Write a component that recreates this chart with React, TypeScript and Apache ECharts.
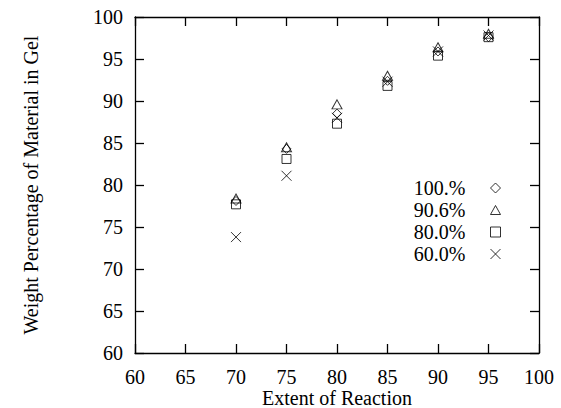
import React, { useEffect, useRef } from "react";
import * as echarts from "echarts";

const extent = [70, 75, 80, 85, 90, 95];
const s100 = [78.1, 84.3, 88.5, 92.4, 95.9, 97.6];
const s906 = [78.4, 84.5, 89.6, 93.0, 96.4, 98.0];
const s800 = [77.7, 83.1, 87.3, 91.8, 95.4, 97.6];
const s600 = [73.8, 81.1, 88.0, 92.3, 95.9, 97.8];
const seriesNames = ["100.%", "90.6%", "80.0%", "60.0%"];
const xTitle = "Extent of Reaction";
const yTitle = "Weight Percentage of Material in Gel";

const DIAMOND = "path://M5,0L10,5L5,10L0,5Z";
const TRIANGLE = "path://M5,0L10,9L0,9Z";
const SQUARE = "path://M0,0L10,0L10,10L0,10Z";
const CROSS = "path://M0,0L10,10M10,0L0,10";

const FONT = "Liberation Serif";

export default function App() {
  const ref = useRef<HTMLDivElement>(null);
  useEffect(() => {
    if (!ref.current) return;
    const chart = echarts.init(ref.current, null, { renderer: "svg" });
    const mk = (arr: number[]) => arr.map((v, i) => [extent[i], v]);
    const symbols = [DIAMOND, TRIANGLE, SQUARE, CROSS];
    const sizes: any[] = [[9, 9], [10, 9], [9, 9], [10, 10]];
    const datas = [s100, s906, s800, s600];
    const itemStyle = { color: "rgba(0,0,0,0)", borderColor: "#000", borderWidth: 1 };
    const axisCommon = {
      min: 60,
      max: 100,
      interval: 5,
      axisLine: { show: true, onZero: false, lineStyle: { color: "#000", width: 1.3 } },
      axisTick: { show: true, inside: true, length: 9, lineStyle: { color: "#000", width: 1.3 } },
      splitLine: { show: false },
    };
    chart.setOption({
      animation: false,
      backgroundColor: "#fff",
      textStyle: { fontFamily: FONT, color: "#000" },
      grid: {
        left: 135,
        right: 22,
        top: 17,
        bottom: 55,
        show: false,
        containLabel: false,
        outerBoundsMode: "none",
      },
      xAxis: [
        {
          ...axisCommon,
          type: "value",
          position: "bottom",
          name: xTitle,
          nameLocation: "middle",
          nameGap: 35,
          nameMoveOverlap: false,
          nameTextStyle: { color: "#000", fontSize: 20, fontFamily: FONT },
          axisLabel: { color: "#000", fontSize: 20, fontFamily: FONT, margin: 14 },
        },
        {
          ...axisCommon,
          type: "value",
          position: "top",
          axisLabel: { show: false },
        },
      ],
      yAxis: [
        {
          ...axisCommon,
          type: "value",
          position: "left",
          name: yTitle,
          nameLocation: "middle",
          nameGap: 94,
          nameTextStyle: { color: "#000", fontSize: 20, fontFamily: FONT },
          axisLabel: { color: "#000", fontSize: 20, fontFamily: FONT, margin: 12 },
        },
        {
          ...axisCommon,
          type: "value",
          position: "right",
          axisLabel: { show: false },
        },
      ],
      legend: {
        orient: "vertical",
        right: 55,
        top: 173,
        align: "right",
        itemGap: 2,
        itemWidth: 10,
        itemHeight: 10,
        textStyle: { color: "#000", fontSize: 20, fontFamily: FONT, lineHeight: 20, padding: [0, 20, 0, 0] },
        data: seriesNames.map((n, i) => ({ name: n, icon: symbols[i], itemStyle })),
      },
      series: seriesNames.map((n, i) => ({
        name: n,
        type: "scatter",
        symbol: symbols[i],
        symbolSize: sizes[i],
        itemStyle,
        data: mk(datas[i]),
        emphasis: { disabled: true },
      })),
    });
    return () => chart.dispose();
  }, []);
  return (
    <div
      ref={ref}
      style={{ position: "fixed", left: 0, top: 0, width: 561, height: 408 }}
    />
  );
}
